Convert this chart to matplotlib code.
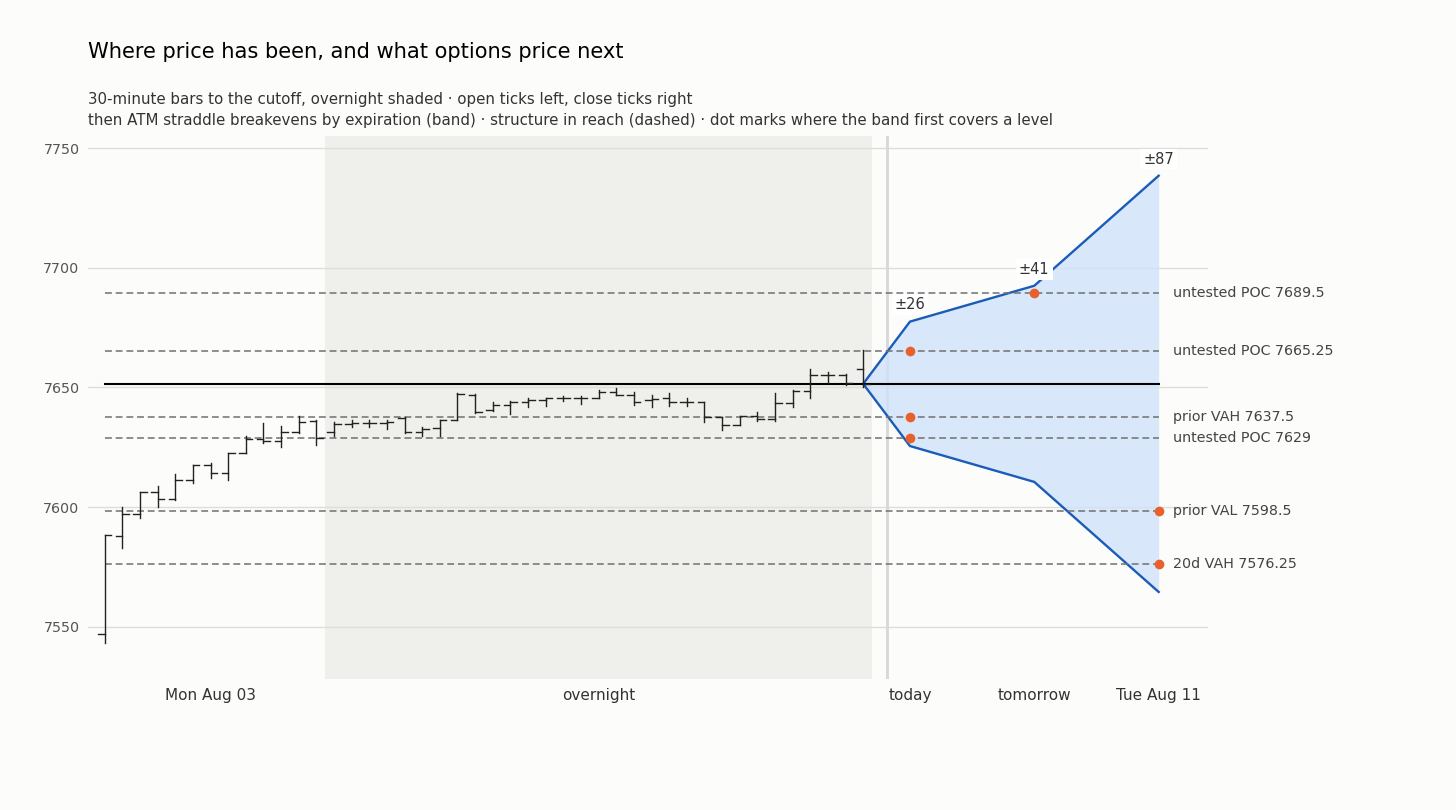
import matplotlib.pyplot as plt
import numpy as np

# 30-minute bars, Mon Aug 03 session then overnight to the cutoff
opens = [7546.75, 7588.0, 7597.25, 7606.25, 7603.5, 7611.5, 7617.5, 7614.25, 7622.75, 7628.25,
         7627.5, 7631.5, 7636.0, 7631.5, 7634.5, 7635.25, 7635.25, 7637.25, 7631.5, 7633.0,
         7636.5, 7646.75, 7640.5, 7642.5, 7644.0, 7644.75, 7645.5, 7645.5, 7645.75, 7648.25,
         7647.0, 7644.75, 7645.5, 7644.0, 7643.75, 7637.75, 7634.25, 7638.0, 7636.75, 7643.5,
         7648.5, 7655.0, 7655.0, 7657.5]
highs = [7588.25, 7600.0, 7606.25, 7608.75, 7613.75, 7617.5, 7618.25, 7622.75, 7629.5, 7635.0,
         7634.0, 7638.0, 7636.5, 7635.5, 7636.25, 7636.5, 7636.5, 7637.75, 7633.5, 7636.5,
         7647.5, 7647.25, 7644.0, 7644.5, 7645.5, 7645.75, 7646.25, 7646.25, 7649.0, 7649.75,
         7648.25, 7646.75, 7647.75, 7645.5, 7643.75, 7637.75, 7638.0, 7639.75, 7647.75, 7648.75,
         7657.5, 7656.25, 7655.75, 7665.75]
lows = [7543.25, 7583.0, 7595.5, 7600.0, 7603.0, 7610.0, 7612.25, 7611.5, 7622.5, 7626.75,
        7625.25, 7631.0, 7625.75, 7629.5, 7633.5, 7633.5, 7632.75, 7631.0, 7629.5, 7629.5,
        7636.5, 7639.5, 7640.25, 7638.75, 7642.0, 7642.25, 7644.5, 7643.25, 7645.75, 7646.75,
        7642.5, 7642.0, 7642.25, 7642.25, 7635.5, 7632.0, 7634.25, 7636.0, 7636.0, 7642.0,
        7645.5, 7652.0, 7651.0, 7650.0]
closes = [7588.25, 7597.25, 7606.25, 7603.5, 7611.5, 7617.5, 7614.25, 7622.75, 7628.25, 7627.5,
          7631.5, 7635.75, 7629.0, 7634.5, 7635.25, 7635.25, 7635.5, 7631.5, 7632.5, 7636.25,
          7647.25, 7639.75, 7642.5, 7644.0, 7644.75, 7645.5, 7645.5, 7645.75, 7648.25, 7647.0,
          7644.0, 7645.0, 7644.0, 7644.0, 7637.75, 7634.25, 7638.0, 7636.75, 7643.5, 7648.5,
          7655.0, 7655.0, 7651.75, 7651.5]
day_bars = 13
session_label = 'Mon Aug 03'

# ATM straddle breakevens by expiration
expiries = ['today', 'tomorrow', 'Tue Aug 11']
moves = [26, 41, 87]

# structure in reach
level_names = ['untested POC', 'untested POC', 'prior VAH', 'untested POC', 'prior VAL', '20d VAH']
levels = [7689.5, 7665.25, 7637.5, 7629, 7598.5, 7576.25]

last = closes[-1]
n = len(closes)
bx = np.arange(n)
cut_x = n + 0.35
exp_x = np.array([n + 1.65 + 7.05 * k for k in range(len(expiries))])

bg = '#fcfcfb'
fig = plt.figure(figsize=(14.56, 8.10), dpi=100, facecolor=bg)
ax = fig.add_axes([0.0604, 0.1614, 0.7693, 0.6704], facecolor=bg)

ax.axvspan(day_bars - 0.5, n - 0.5, color='#efefec', zorder=0, lw=0)
ax.axvline(cut_x, color='#d8d8d8', lw=2, zorder=1)

# band
bxs = np.concatenate([[n - 1], exp_x])
up = np.concatenate([[last], last + np.array(moves)])
dn = np.concatenate([[last], last - np.array(moves)])
ax.fill_between(bxs, dn, up, color='#cfe3fa', alpha=0.8, lw=0, zorder=2)
ax.plot(bxs, up, color='#1a5cb8', lw=1.7, zorder=3)
ax.plot(bxs, dn, color='#1a5cb8', lw=1.7, zorder=3)

# levels
for name, lv in zip(level_names, levels):
    ax.plot([0, exp_x[-1]], [lv, lv], color='#707070', lw=1.1, dashes=(4.5, 2.5), zorder=4)
    ax.text(exp_x[-1] + 0.8, lv, f'{name} {lv:g}', ha='left', va='center',
            fontsize=10.3, color='#444444', zorder=6)
    for x, m in zip(exp_x, moves):
        if (lv >= last and last + m >= lv) or (lv < last and last - m <= lv):
            ax.plot(x, lv, 'o', color='#e8602c', ms=7, mec='none', zorder=7)
            break

ax.plot([0, exp_x[-1]], [last, last], color='black', lw=1.5, zorder=5)

# OHLC bars
tw = 0.37
for i in range(n):
    ax.plot([bx[i], bx[i]], [lows[i], highs[i]], color='#222222', lw=1.0, zorder=6)
    ax.plot([bx[i] - tw, bx[i]], [opens[i], opens[i]], color='#222222', lw=1.0, zorder=6)
    ax.plot([bx[i], bx[i] + tw], [closes[i], closes[i]], color='#222222', lw=1.0, zorder=6)

for x, m in zip(exp_x, moves):
    ax.annotate(f'±{m}', (x, last + m), xytext=(0, 12), textcoords='offset points',
                ha='center', va='center', fontsize=10.5, color='#333333', zorder=8,
                bbox=dict(boxstyle='square,pad=0.2', fc='white', ec='none'))

ax.set_xlim(-0.95, 62.55)
ax.set_ylim(7528, 7755)
ax.set_yticks([7550, 7600, 7650, 7700, 7750])
ax.set_xticks([day_bars // 2, (day_bars + n - 1) / 2] + list(exp_x))
ax.set_xticklabels([session_label, 'overnight'] + expiries)
ax.grid(axis='y', color='#deded8', lw=1, zorder=0.5)
ax.set_axisbelow(True)
for s in ax.spines.values():
    s.set_visible(False)
ax.tick_params(axis='y', length=0, pad=6, labelsize=10.3, labelcolor='#555555')
ax.tick_params(axis='x', length=0, pad=6, labelsize=11, labelcolor='#333333')

fig.text(0.0604, 0.936, 'Where price has been, and what options price next',
         fontsize=15.1, color='black', va='center')
fig.text(0.0604, 0.877, '30-minute bars to the cutoff, overnight shaded · open ticks left, close ticks right',
         fontsize=10.8, color='#333333', va='center')
fig.text(0.0604, 0.851, 'then ATM straddle breakevens by expiration (band) · structure in reach (dashed) · '
         'dot marks where the band first covers a level', fontsize=10.8, color='#333333', va='center')

fig.savefig('out.png', dpi=100, facecolor=bg)
